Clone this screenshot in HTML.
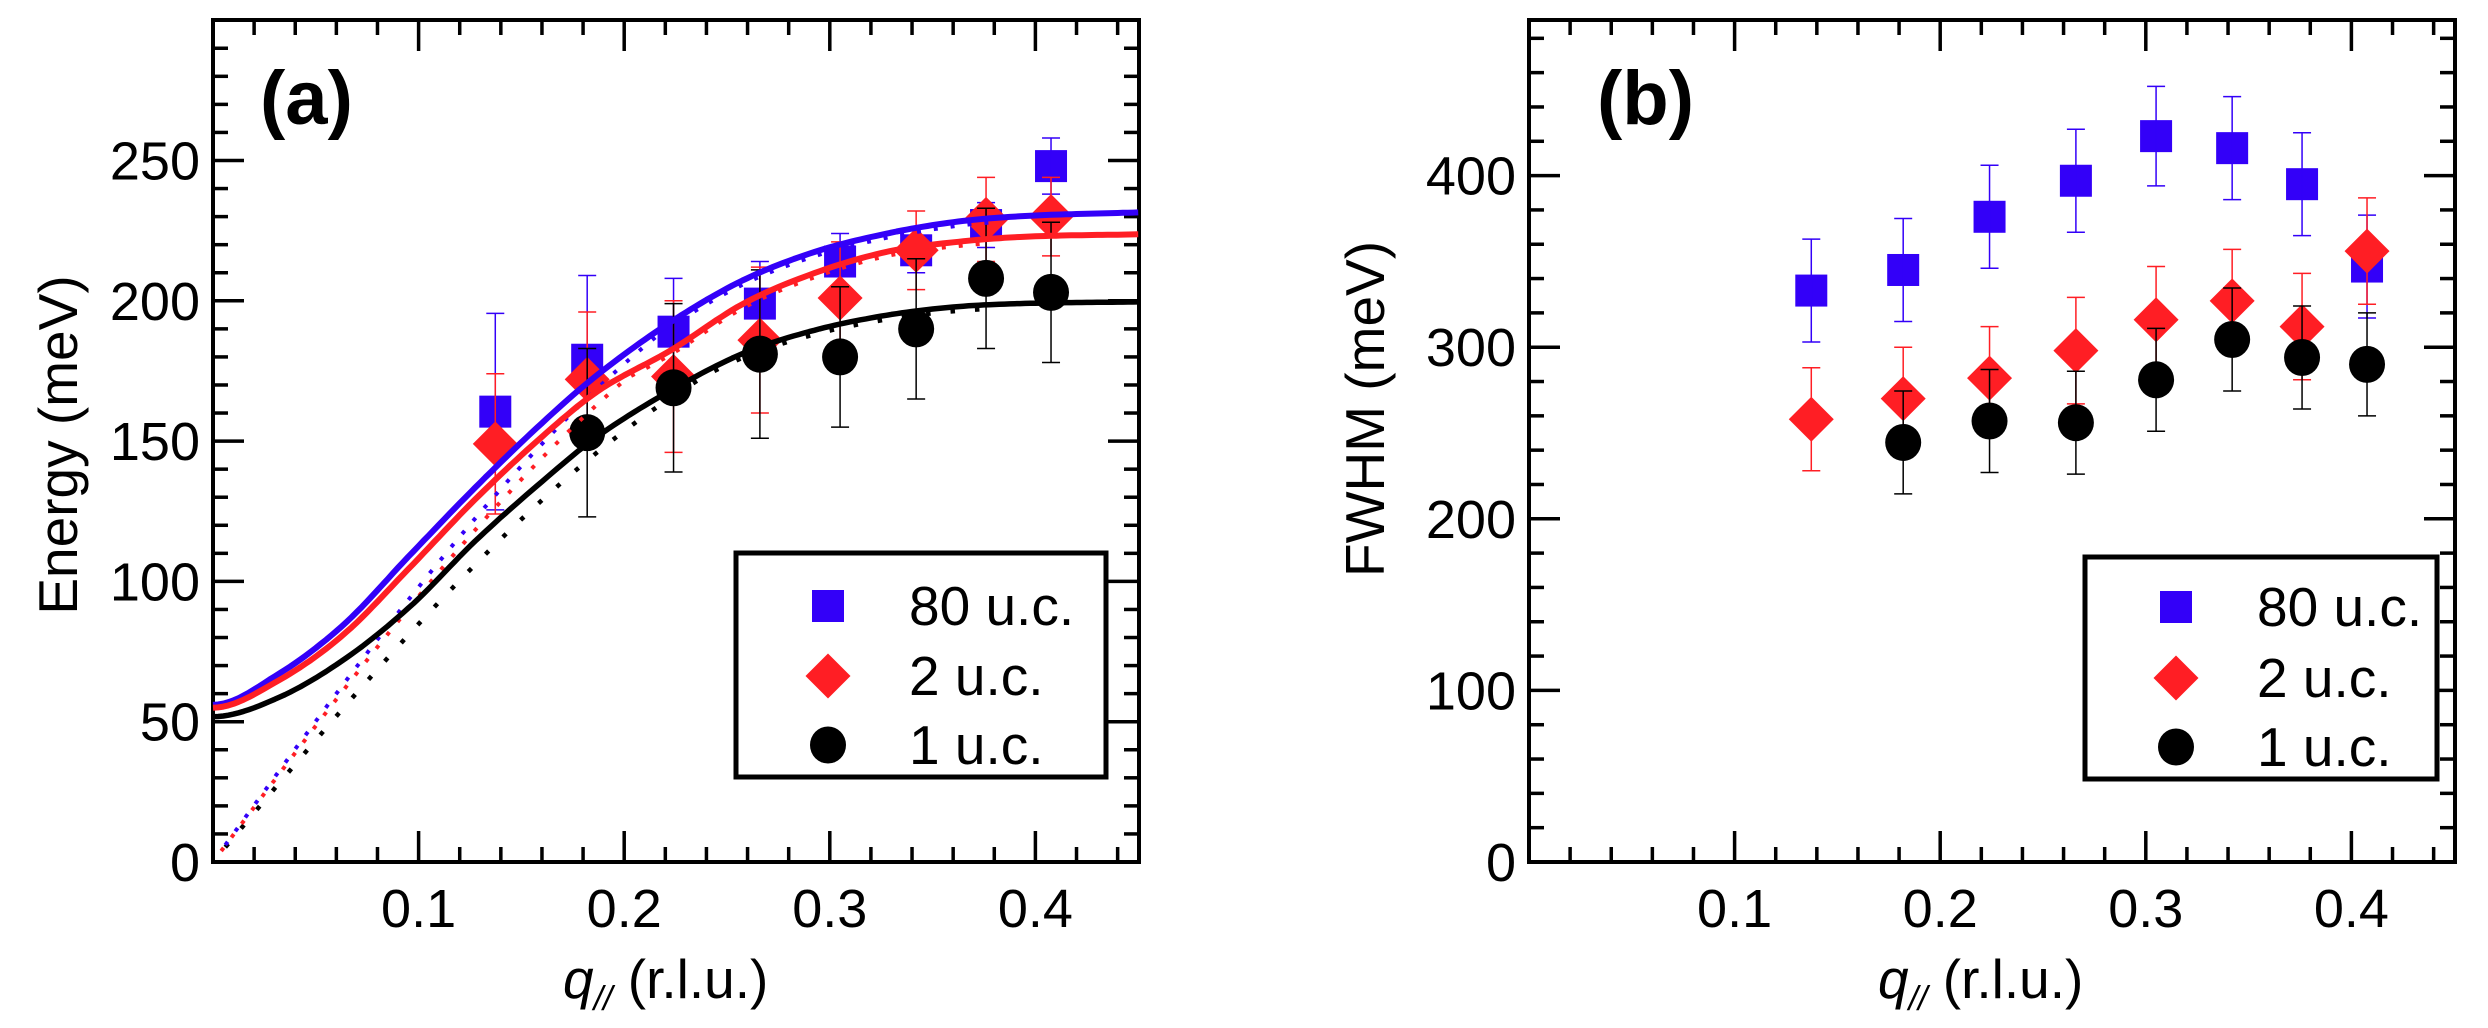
<!DOCTYPE html>
<html><head><meta charset="utf-8">
<style>
html,body{margin:0;padding:0;background:#fff;}
svg{display:block;}
text{font-family:"Liberation Sans",Arial,sans-serif;}
</style></head>
<body>
<svg id="s" width="2488" height="1028" viewBox="0 0 2488 1028" xmlns="http://www.w3.org/2000/svg">
<rect width="2488" height="1028" fill="#fff"/>
<g id="g"></g>
<text x="260" y="124" font-size="76" font-weight="bold">(a)</text>
<text x="1597" y="124" font-size="76" font-weight="bold">(b)</text>
<text transform="translate(77,445) rotate(-90)" font-size="55" text-anchor="middle">Energy (meV)</text>
<text transform="translate(1384,409) rotate(-90)" font-size="55" text-anchor="middle">FWHM (meV)</text>
<text x="563" y="998" font-size="55"><tspan font-style="italic">q</tspan><tspan font-style="italic" font-size="34" dy="12">//</tspan><tspan dy="-12"> (r.l.u.)</tspan></text>
<text x="1878" y="998" font-size="55"><tspan font-style="italic">q</tspan><tspan font-style="italic" font-size="34" dy="12">//</tspan><tspan dy="-12"> (r.l.u.)</tspan></text>
</svg>
<script>
var NS="http://www.w3.org/2000/svg",G=document.getElementById('g');
function el(t,a,txt){var e=document.createElementNS(NS,t);for(var k in a)e.setAttribute(k,a[k]);if(txt!==undefined)e.textContent=txt;G.appendChild(e);return e;}
var BLUE="#3300f8",RED="#ff1e24",BLK="#000";
var Q=[0.1373,0.182,0.224,0.266,0.305,0.342,0.376,0.4076];
var Q1=Q.slice(1);
function axes(L,R,T,B,ymax,ymaj,ymin,fx,fy){
  for(var i=1;i<=22;i++){var q=i*0.02;var x=fx(q);if(x>R-2)continue;var maj=(i%5==0);var len=maj?31:15;
    el('line',{x1:x,y1:B,x2:x,y2:B-len,stroke:'#000','stroke-width':3.5});
    el('line',{x1:x,y1:T,x2:x,y2:T+len,stroke:'#000','stroke-width':3.5});
    if(maj)el('text',{x:x,y:927,'font-size':54,'text-anchor':'middle'},(q).toFixed(1));}
  for(var v=ymin;v<ymax;v+=ymin){var y=fy(v);if(y<T+2)continue;var maj=(Math.round(v)%ymaj==0);var len=maj?31:15;
    el('line',{x1:L,y1:y,x2:L+len,y2:y,stroke:'#000','stroke-width':3.5});
    el('line',{x1:R,y1:y,x2:R-len,y2:y,stroke:'#000','stroke-width':3.5});
    if(maj)el('text',{x:L-13,y:y+19,'font-size':54,'text-anchor':'end'},String(Math.round(v)));}
  el('text',{x:L-13,y:B+19,'font-size':54,'text-anchor':'end'},'0');
  el('rect',{x:L,y:T,width:R-L,height:B-T,fill:'none',stroke:'#000','stroke-width':4});
}
function sq(x,y){el('rect',{x:x-16,y:y-16,width:32,height:32,fill:BLUE});}
function di(x,y){el('polygon',{points:(x-22.5)+','+y+' '+x+','+(y-22.5)+' '+(x+22.5)+','+y+' '+x+','+(y+22.5),fill:RED});}
function ci(x,y){el('ellipse',{cx:x,cy:y,rx:18,ry:18.5,fill:BLK});}
function eb(x,y1,y2,c){el('line',{x1:x,y1:y1,x2:x,y2:y2,stroke:c,'stroke-width':1.5});
  el('line',{x1:x-9,y1:y1,x2:x+9,y2:y1,stroke:c,'stroke-width':1.5});el('line',{x1:x-9,y1:y2,x2:x+9,y2:y2,stroke:c,'stroke-width':1.5});}
function series(fx,fy,qs,vals,errs,c,mk){
  for(var i=0;i<qs.length;i++){var x=fx(qs[i]);mk(x,fy(vals[i]));}
  for(var i=0;i<qs.length;i++){var x=fx(qs[i]);eb(x,fy(vals[i]+errs[i]),fy(vals[i]-errs[i]),c);}
}
function interp(pts,q){
  for(var i=0;i<pts.length-1;i++){if(q<=pts[i+1][0]){var p0=pts[Math.max(0,i-1)],p1=pts[i],p2=pts[i+1],p3=pts[Math.min(pts.length-1,i+2)];
    var t=(q-p1[0])/(p2[0]-p1[0]);var m1=(p2[1]-p0[1])/(p2[0]-p0[0])*(p2[0]-p1[0]);var m2=(p3[1]-p1[1])/(p3[0]-p1[0])*(p2[0]-p1[0]);
    if(i==0)m1=0;
    var t2=t*t,t3=t2*t;return (2*t3-3*t2+1)*p1[1]+(t3-2*t2+t)*m1+(-2*t3+3*t2)*p2[1]+(t3-t2)*m2;}}
  return pts[pts.length-1][1];}
function curve(fx,fy,f,c,w,dash,q0,q1){var d='';for(var q=q0;q<=q1+1e-9;q+=0.0025){var x=fx(q),y=fy(f(q));d+=(d?'L':'M')+x.toFixed(1)+','+y.toFixed(1);}
  var a={d:d,fill:'none',stroke:c,'stroke-width':w,'stroke-linejoin':'round'};if(dash){a['stroke-dasharray']=dash;}el('path',a);}

var ax=function(q){return 213+q*2056;},ay=function(v){return 862-2.806*v;};
axes(213,1139,20,862,300,50,10,ax,ay);
series(ax,ay,Q,[160.5,179,189,199,214,218,227,248],[35,30,19,15,10,8,8,10],BLUE,sq);
series(ax,ay,Q,[149,172,173,186,201,218,229,230],[25,24,27,26,20,14,15,14],RED,di);
series(ax,ay,Q1,[153,169,181,180,190,208,203],[30,30,30,25,25,25,25],BLK,ci);
var bp=[[0,56],[0.031,66.6],[0.0634,84.5],[0.0958,109.4],[0.128,133.8],[0.1607,156.9],[0.188,174.2],[0.223,192.6],[0.258,207.4],[0.293,217.5],[0.328,224],[0.362,228.2],[0.397,230.3],[0.45,231.5]];
var rp=[[0,55],[0.031,64.3],[0.0634,81],[0.0958,105],[0.128,129.6],[0.1607,152],[0.188,168.2],[0.223,182.5],[0.258,199],[0.293,210],[0.328,217.5],[0.362,221],[0.397,222.9],[0.45,223.7]];
var kp=[[0,51.8],[0.031,58.3],[0.0634,72],[0.0958,91],[0.128,114.7],[0.1607,136],[0.188,152.2],[0.223,168.2],[0.258,181.3],[0.293,189.6],[0.328,194.9],[0.362,197.9],[0.397,199.1],[0.45,199.6]];
function dot(M,k,pts){return function(q){var a=k*q;var v=a>=Math.PI/2?M:M*Math.sin(a);return Math.min(v,interp(pts,q)-1.5);};}
curve(ax,ay,dot(199.6,4.39,kp),BLK,4.5,'4.5 20',0.006,0.38);
curve(ax,ay,dot(231.5,4.37,bp),BLUE,4,'4 13',0.006,0.38);
curve(ax,ay,dot(223.7,4.37,rp),RED,4,'4 13',0.004,0.38);
curve(ax,ay,function(q){return interp(kp,q);},BLK,5.5,null,0,0.45);
curve(ax,ay,function(q){return interp(bp,q);},BLUE,6,null,0,0.45);
curve(ax,ay,function(q){return interp(rp,q);},RED,6,null,0,0.45);
el('rect',{x:736,y:553,width:370,height:224,fill:'#fff',stroke:'#000','stroke-width':5});
sq(828,606);di(828,676);ci(828,745);
el('text',{x:909,y:625,'font-size':55},'80 u.c.');
el('text',{x:909,y:695,'font-size':55},'2 u.c.');
el('text',{x:909,y:764,'font-size':55},'1 u.c.');

var bx=function(q){return 1529+q*2056;},by=function(v){return 862-1.716*v;};
axes(1529,2455,20,862,490,100,20,bx,by);
series(bx,by,Q,[333,345,376,397,423,416,395,347],[30,30,30,30,29,30,30,30],BLUE,sq);
series(bx,by,Q,[258,270,282,298,316,327,312,356],[30,30,30,31,31,30,31,31],RED,di);
series(bx,by,Q1,[244.5,257,256,281,304.5,294,290],[30,30,30,30,30,30,30],BLK,ci);
el('rect',{x:2085,y:557,width:352,height:222,fill:'#fff',stroke:'#000','stroke-width':5});
sq(2176,607);di(2176,678);ci(2176,747);
el('text',{x:2257,y:626,'font-size':55},'80 u.c.');
el('text',{x:2257,y:697,'font-size':55},'2 u.c.');
el('text',{x:2257,y:766,'font-size':55},'1 u.c.');
</script>
</body></html>
